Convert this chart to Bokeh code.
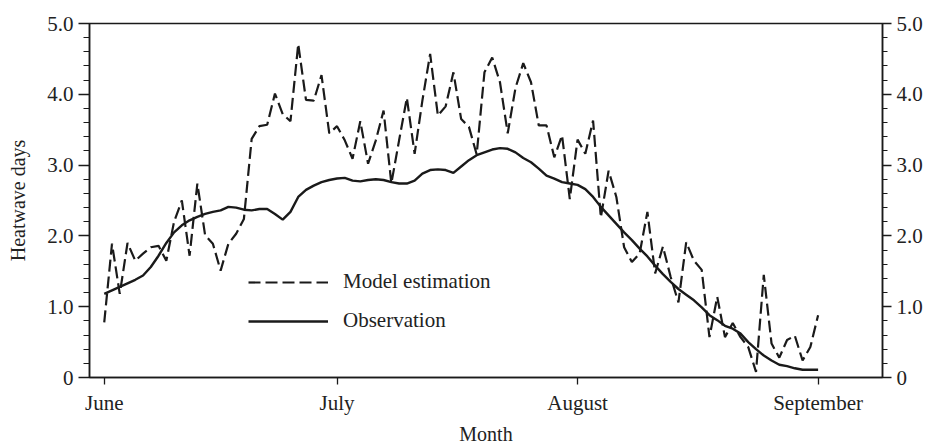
from bokeh.plotting import figure
from bokeh.models import LinearAxis, FixedTicker, Legend, LegendItem, Range1d
from bokeh.embed import file_html
from bokeh.resources import INLINE

# ---- data -------------------------------------------------------------
month_ticks = [0, 30, 61, 92]          # day index from 1 June
month_labels = ["June", "July", "August", "September"]
y_ticks = [0, 1, 2, 3, 4, 5]
y_labels = ["0", "1.0", "2.0", "3.0", "4.0", "5.0"]

days = list(range(93))                 # 1 June ... 1 September

model_estimation = [
    0.78, 1.89, 1.18, 1.90, 1.65, 1.75, 1.84, 1.86, 1.65, 2.20,
    2.50, 1.72, 2.74, 2.01, 1.89, 1.51, 1.89, 2.03, 2.24, 3.37,
    3.55, 3.57, 4.01, 3.72, 3.62, 4.71, 3.92, 3.91, 4.27, 3.45,
    3.55, 3.35, 3.09, 3.62, 3.02, 3.35, 3.77, 2.74, 3.35, 3.95,
    3.16, 3.91, 4.57, 3.70, 3.83, 4.31, 3.65, 3.54, 3.15, 4.31,
    4.52, 4.17, 3.45, 4.09, 4.44, 4.17, 3.56, 3.56, 3.11, 3.42,
    2.52, 3.36, 3.16, 3.63, 2.26, 2.92, 2.55, 1.84, 1.63, 1.75,
    2.34, 1.47, 1.85, 1.42, 1.06, 1.91, 1.65, 1.52, 0.57, 1.14,
    0.57, 0.77, 0.57, 0.43, 0.08, 1.45, 0.48, 0.28, 0.53, 0.59,
    0.24, 0.43, 0.88,
]

observation = [
    1.18, 1.23, 1.28, 1.33, 1.38, 1.44, 1.56, 1.72, 1.90, 2.05,
    2.15, 2.22, 2.27, 2.31, 2.34, 2.36, 2.41, 2.40, 2.37, 2.36,
    2.38, 2.38, 2.31, 2.23, 2.34, 2.55, 2.65, 2.71, 2.76, 2.79,
    2.81, 2.82, 2.78, 2.77, 2.79, 2.80, 2.79, 2.76, 2.74, 2.74,
    2.78, 2.88, 2.93, 2.94, 2.93, 2.89, 2.98, 3.07, 3.14, 3.18,
    3.22, 3.24, 3.23, 3.18, 3.10, 3.04, 2.95, 2.85, 2.81, 2.76,
    2.74, 2.72, 2.66, 2.55, 2.41, 2.29, 2.17, 2.05, 1.94, 1.82,
    1.71, 1.58, 1.46, 1.35, 1.25, 1.17, 1.09, 0.99, 0.88, 0.81,
    0.73, 0.69, 0.62, 0.50, 0.40, 0.31, 0.24, 0.18, 0.16, 0.13,
    0.11, 0.11, 0.11,
]

# ---- styling ------------------------------------------------------------
FONT = "Liberation Serif"
INK = "#1a1a1a"
TXT = "#222222"

p = figure(
    width=926, height=447,
    output_backend="svg", toolbar_location=None,
    x_range=Range1d(-1.9, 100.3), y_range=Range1d(0, 5),
    min_border_left=89, min_border_right=44,
    min_border_top=23, min_border_bottom=70,
)
p.background_fill_color = "white"
p.border_fill_color = "white"
p.outline_line_color = INK
p.outline_line_width = 1.5
p.xgrid.visible = False
p.ygrid.visible = False

r_model = p.line(days, model_estimation, line_color=INK, line_width=2.2,
                 line_dash="12 5")
r_obs = p.line(days, observation, line_color=INK, line_width=2.4)

# x axis
xa = p.xaxis[0]
xa.ticker = FixedTicker(ticks=month_ticks)
xa.major_label_overrides = {t: l for t, l in zip(month_ticks, month_labels)}
xa.axis_label = "Month"
xa.major_tick_in = 0
xa.major_tick_out = 7
xa.minor_tick_line_color = None
xa.major_label_standoff = 6
xa.axis_label_standoff = 5

yticker = FixedTicker(ticks=y_ticks, minor_ticks=[i * 0.2 for i in range(26)])
ya = p.yaxis[0]
ya.ticker = yticker
ya.major_label_overrides = {t: l for t, l in zip(y_ticks, y_labels)}
ya.axis_label = "Heatwave days"
ya.axis_label_standoff = 15
ya.major_tick_out = 11
ya.minor_tick_out = 6

ra = LinearAxis(ticker=yticker,
                major_label_overrides={t: l for t, l in zip(y_ticks, y_labels)})
p.add_layout(ra, "right")
ra.major_tick_out = 9
ra.minor_tick_out = 5

for ax in [ya, ra]:
    ax.major_tick_in = 0
    ax.minor_tick_in = 0
    ax.major_label_standoff = 5

for ax in [xa, ya, ra]:
    ax.axis_line_color = INK
    ax.axis_line_width = 1.5
    ax.major_tick_line_color = INK
    ax.major_tick_line_width = 1.3
    ax.minor_tick_line_width = 1.2
    ax.major_label_text_font = FONT
    ax.major_label_text_font_size = "21px"
    ax.major_label_text_color = TXT
    ax.axis_label_text_font = FONT
    ax.axis_label_text_font_size = "20px"
    ax.axis_label_text_font_style = "normal"
    ax.axis_label_text_color = TXT
ra.minor_tick_line_color = INK
ya.minor_tick_line_color = INK

legend = Legend(
    items=[LegendItem(label="Model estimation", renderers=[r_model]),
           LegendItem(label="Observation", renderers=[r_obs])],
    location=(159, 44),
    border_line_color=None, background_fill_alpha=0,
    padding=0, margin=0, spacing=14,
    glyph_width=80, glyph_height=24, label_height=24,
    label_standoff=15,
    label_text_font=FONT, label_text_font_size="21px",
    label_text_color=TXT,
)
p.add_layout(legend)

open("out.html", "w").write(file_html(p, INLINE))
